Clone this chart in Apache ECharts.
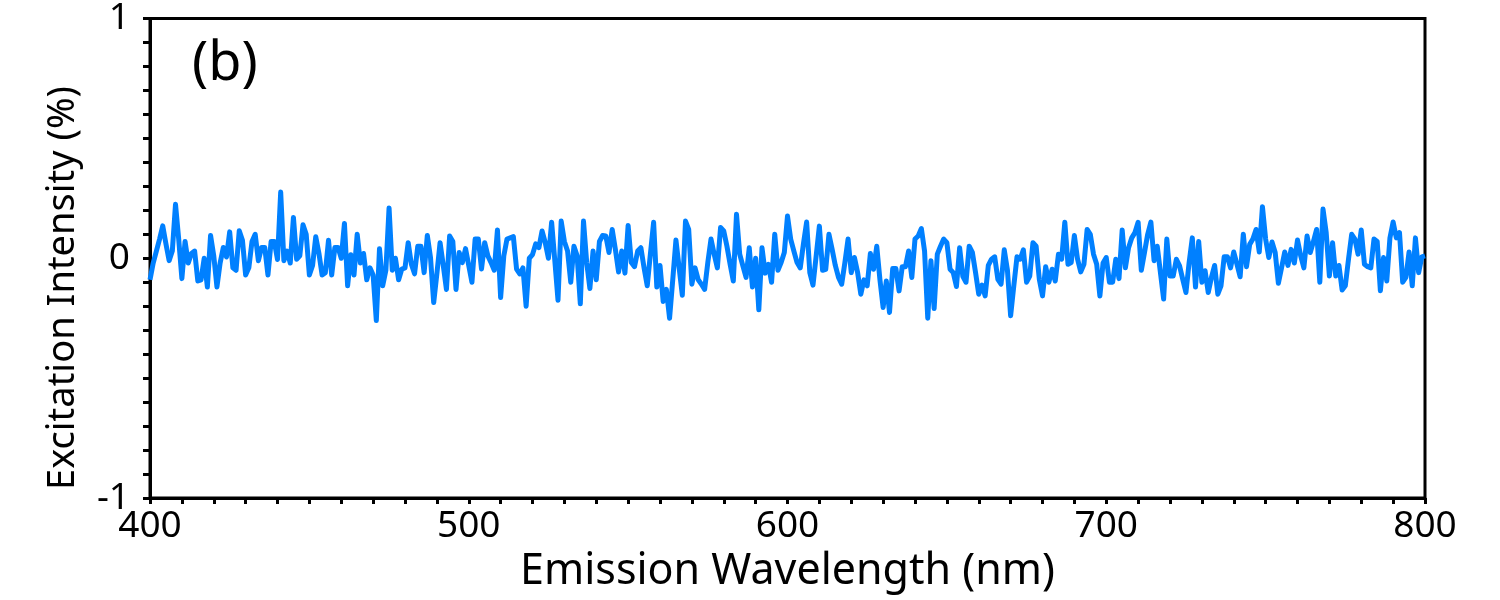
<!DOCTYPE html>
<html>
<head>
<meta charset="utf-8">
<script src="https://cdn.jsdelivr.net/npm/echarts@6/dist/echarts.min.js"></script>
<style>html,body{margin:0;padding:0;background:#fff}#c{width:1500px;height:600px}</style>
</head>
<body>
<div id="c"></div>
<script>
// Emission wavelength grid: 400..800 nm, 1 nm steps
var wlStart = 400, wlStep = 1;
// Excitation intensity (%), one value per nm
var intensity = [
-0.09,-0.02,0.03,0.08,0.135,0.06,-0.01,0.03,0.225,0.08,
-0.085,0.07,-0.02,0.02,0.03,-0.095,-0.09,0.0,-0.12,0.095,
0.01,-0.12,-0.02,0.045,0.005,0.11,-0.04,-0.05,0.115,0.075,
-0.07,-0.04,0.07,0.1,-0.01,0.045,0.045,-0.07,0.07,0.07,
-0.005,0.276,-0.01,0.03,-0.02,0.17,-0.004,0.01,0.14,0.1,
-0.07,-0.03,0.09,0.02,-0.07,-0.06,0.075,-0.07,0.045,0.045,
0.0,0.145,-0.115,0.015,-0.07,0.1,-0.02,0.02,-0.09,-0.04,
-0.07,-0.26,0.04,-0.115,-0.05,0.21,-0.05,0.0,-0.09,-0.045,
-0.04,0.065,-0.025,-0.065,0.05,0.05,-0.06,0.095,0.003,-0.185,
-0.065,0.065,-0.03,-0.13,0.093,0.07,-0.13,0.024,-0.018,0.04,
-0.03,-0.1,0.08,0.08,-0.045,0.065,0.01,-0.018,-0.05,0.118,
-0.164,0.01,0.08,0.085,0.09,-0.045,-0.065,-0.04,-0.2,0.0,
0.015,0.06,0.044,0.114,0.065,0.0,0.15,-0.01,-0.175,0.155,
0.07,0.03,-0.1,0.05,0.01,-0.19,0.155,-0.018,-0.126,0.03,
-0.09,0.07,0.095,0.093,0.024,0.12,0.037,-0.057,0.03,-0.062,
0.137,-0.018,-0.035,0.03,0.044,-0.04,-0.115,0.02,0.15,-0.12,
-0.03,-0.18,-0.13,-0.25,-0.09,0.076,-0.04,-0.154,0.155,0.12,
-0.108,-0.04,-0.09,-0.108,-0.13,-0.018,0.08,0.017,-0.04,0.128,
0.114,0.05,-0.025,-0.095,0.184,0.017,-0.032,-0.08,0.044,-0.12,
0.0,-0.215,0.044,-0.062,-0.025,-0.1,0.1,-0.05,-0.018,0.024,
0.176,0.08,0.03,-0.018,-0.04,0.06,0.151,-0.06,-0.112,0.01,
0.134,-0.05,-0.046,0.1,0.037,-0.03,-0.08,-0.108,-0.018,0.08,
-0.06,0.003,-0.06,-0.15,-0.09,-0.115,0.02,-0.046,0.05,-0.09,
-0.205,-0.095,-0.226,-0.043,-0.043,-0.136,-0.035,-0.035,0.03,-0.08,
0.08,0.093,0.124,0.03,-0.25,-0.01,-0.21,0.017,0.05,0.08,
0.065,-0.046,-0.06,-0.118,0.044,-0.075,-0.1,0.05,0.024,-0.06,
-0.15,-0.112,-0.157,-0.03,-0.004,0.006,-0.088,-0.108,0.035,-0.05,
-0.24,-0.115,0.006,-0.004,0.035,-0.1,-0.074,0.065,0.05,-0.088,
-0.157,-0.035,-0.1,-0.046,-0.095,0.017,-0.004,0.15,-0.025,-0.018,
0.095,-0.004,-0.057,-0.025,0.12,0.1,0.017,-0.025,-0.157,-0.02,
0.003,-0.1,-0.1,-0.004,-0.085,0.118,-0.04,0.044,0.085,0.107,
0.15,-0.05,0.024,0.1,0.151,-0.01,0.05,-0.06,-0.17,0.08,
-0.074,-0.074,-0.004,-0.032,-0.088,-0.143,-0.018,0.085,-0.12,0.07,
-0.1,-0.052,-0.143,-0.08,-0.03,-0.15,-0.115,0.006,0.006,-0.04,
0.026,-0.025,-0.077,0.1,-0.035,0.058,0.08,0.12,0.026,0.215,
0.08,0.003,0.068,0.024,-0.104,-0.04,0.026,-0.03,0.037,-0.02,
0.076,0.01,-0.04,0.093,0.024,0.07,0.12,-0.1,0.205,0.107,
-0.074,0.065,-0.074,-0.03,-0.132,-0.115,-0.004,0.1,0.08,0.017,
0.118,-0.025,-0.035,-0.04,0.08,0.07,-0.136,0.003,-0.095,0.085,
0.151,0.085,0.107,-0.1,-0.08,0.026,-0.115,0.085,-0.06,0.006,
0.01
];
var xTicks = [400, 500, 600, 700, 800];
var yTicks = [-1, 0, 1];
var panelLabel = '(b)';
var xTitle = 'Emission Wavelength (nm)';
var yTitle = 'Excitation Intensity (%)';

var pts = intensity.map(function (v, i) { return [wlStart + i * wlStep, v]; });
var FONT = '"Noto Sans", "DejaVu Sans", sans-serif';

var chart = echarts.init(document.getElementById('c'), null, {renderer: 'canvas'});
chart.setOption({
  animation: false,
  backgroundColor: '#fff',
  title: {
    text: panelLabel, left: 187, top: 33,
    textStyle: {fontFamily: FONT, fontSize: 54, fontWeight: 'normal', color: '#000'}
  },
  graphic: [{
    type: 'text', rotation: Math.PI / 2, x: 63, y: 288,
    style: {text: yTitle, fontFamily: FONT, fontSize: 38, fill: '#000', align: 'center', verticalAlign: 'middle'}
  }],
  grid: {left: 150, right: 75, top: 18, bottom: 102, show: true, borderColor: '#000', borderWidth: 3, backgroundColor: 'transparent'},
  xAxis: {
    type: 'value', min: xTicks[0], max: xTicks[xTicks.length - 1], interval: 100,
    name: xTitle, nameLocation: 'middle', nameGap: 46,
    nameTextStyle: {fontFamily: FONT, fontSize: 43, color: '#000'},
    axisLine: {show: true, onZero: false, lineStyle: {color: '#000', width: 3}},
    axisTick: {show: true, inside: false, length: 6, lineStyle: {color: '#000', width: 3}},
    minorTick: {show: true, splitNumber: 10, length: 6, lineStyle: {color: '#000', width: 3}},
    splitLine: {show: false},
    axisLabel: {fontFamily: FONT, fontSize: 37, color: '#000', margin: 10}
  },
  yAxis: {
    type: 'value', min: yTicks[0], max: yTicks[yTicks.length - 1], interval: 1,
    axisLine: {show: true, onZero: false, lineStyle: {color: '#000', width: 3}},
    axisTick: {show: true, inside: false, length: 7, lineStyle: {color: '#000', width: 3}},
    minorTick: {show: true, splitNumber: 10, length: 7, lineStyle: {color: '#000', width: 3}},
    splitLine: {show: false},
    axisLabel: {fontFamily: FONT, fontSize: 37, color: '#000', margin: 20}
  },
  series: [{
    type: 'line', data: pts, showSymbol: false, symbol: 'none',
    lineStyle: {color: '#0080ff', width: 5, join: 'round'},
    clip: true
  }]
});
</script>
</body>
</html>
